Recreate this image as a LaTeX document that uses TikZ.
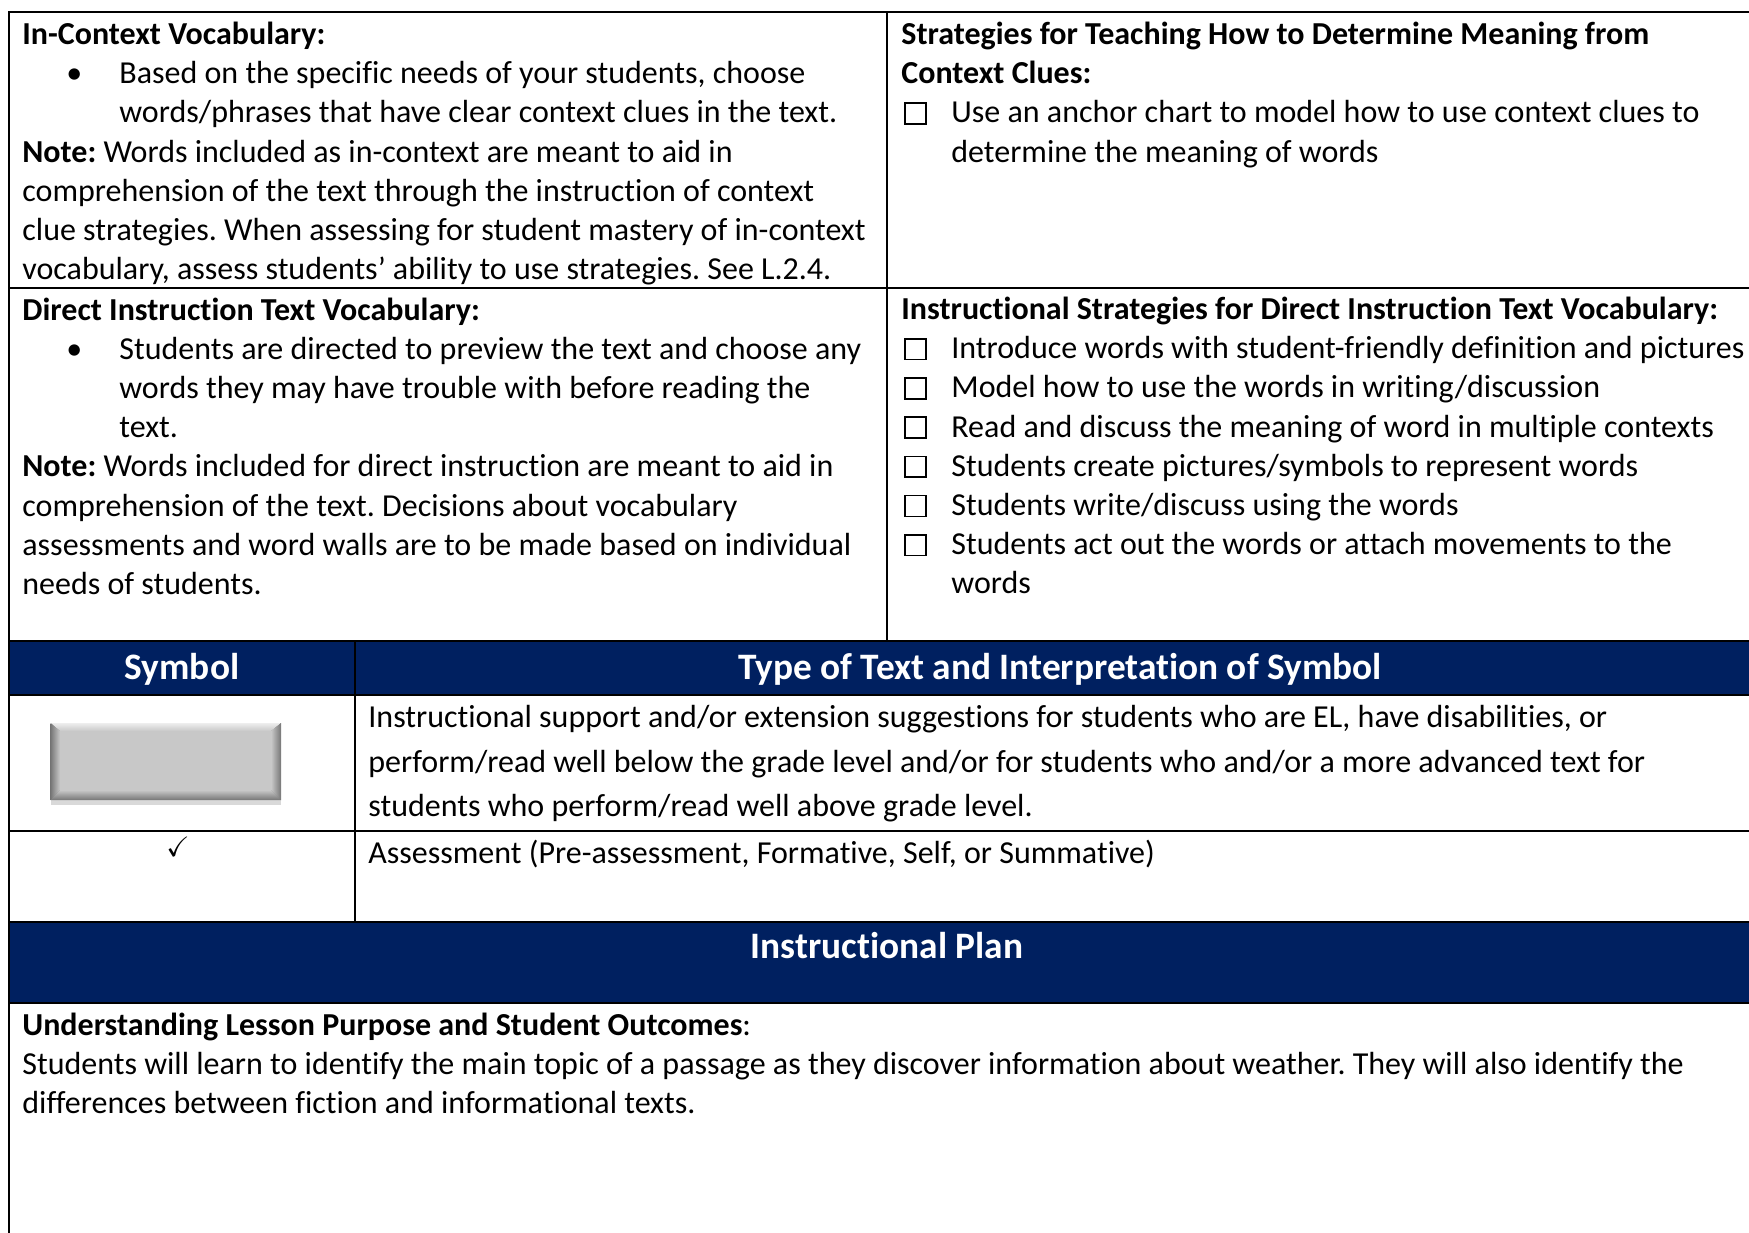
\documentclass[tikz,border=0pt]{standalone}
\usepackage{fontspec}
\setmainfont[Ligatures={NoCommon,NoContextual}]{Carlito}
\usepackage{amssymb}
\usetikzlibrary{shadows}
\definecolor{navyband}{RGB}{0,32,96}
\definecolor{btnface}{RGB}{200,200,200}
\definecolor{btnlight}{RGB}{238,238,238}
\definecolor{btndark}{RGB}{118,118,118}
\frenchspacing

\newcommand{\tickbox}{\makebox[25pt][l]{\hspace{1.5pt}{\setlength{\fboxsep}{0pt}\setlength{\fboxrule}{0.8pt}\fbox{\rule{0pt}{9.6pt}\hspace{9.6pt}}}}}
\newcommand{\bulpad}{\hspace*{48.5pt}}
\newcommand{\bulitem}{\hspace*{22pt}\makebox[26.5pt][l]{\textbullet}}

\tikzset{
  cell/.style={anchor=base west, inner sep=0pt, font=\fontsize{16}{19.6}\selectfont},
  symcell/.style={anchor=base west, inner sep=0pt, font=\fontsize{16}{22.25}\selectfont},
  bandtext/.style={anchor=base, inner sep=0pt, text=white, font=\fontsize{18.67}{22}\selectfont\bfseries},
  gridline/.style={line width=1pt, black}
}

\begin{document}
\begin{tikzpicture}[x=0.5pt, y=-0.5pt]

  \useasboundingbox (0,0) rectangle (1749,1232);
  \clip (0,0) rectangle (1749,1232);

  % Eckpunkte der Tabelle
  \coordinate (TL) at (9,12);
  \coordinate (BR) at (1765,1300);

  % Balken
  \fill[navyband] (9,641) rectangle (1765,694.5);
  \fill[navyband] (9,921.7) rectangle (1765,1003);

  % Linien
  \draw[gridline] (TL) rectangle (BR);
  \draw[gridline] (9,287.5) -- (1765,287.5);
  \draw[gridline] (887,12) -- (887,641);
  \draw[gridline] (9,641) -- (1765,641);
  \draw[gridline] (9,694.5) -- (1765,694.5);
  \draw[gridline] (9,831) -- (1765,831);
  \draw[gridline] (9,921.7) -- (1765,921.7);
  \draw[gridline] (9,1003) -- (1765,1003);
  \draw[gridline] (355,641) -- (355,921.7);

  % Wortschatz
  \node[cell] (icv) at (22,44.5) {\parbox[t]{860pt}{\raggedright
    \textbf{In-Context Vocabulary:}\\
    \bulitem Based on the specific needs of your students, choose\\
    \bulpad words/phrases that have clear context clues in the text.\\
    \textbf{Note:} Words included as in-context are meant to aid in\\
    comprehension of the text through the instruction of context\\
    clue strategies. When assessing for student mastery of in-context\\
    vocabulary, assess students’ ability to use strategies. See L.2.4.}};

  \node[cell] (ctx) at (901,44.5) {\parbox[t]{860pt}{\raggedright
    \textbf{Strategies for Teaching How to Determine Meaning from}\\
    \textbf{Context Clues:}\\
    \tickbox Use an anchor chart to model how to use context clues to\\
    \hspace*{25pt}determine the meaning of words}};

  \node[cell] (div) at (22,320) {\parbox[t]{860pt}{\raggedright
    \textbf{Direct Instruction Text Vocabulary:}\\
    \bulitem Students are directed to preview the text and choose any\\
    \bulpad words they may have trouble with before reading the\\
    \bulpad text.\\
    \textbf{Note:} Words included for direct instruction are meant to aid in\\
    comprehension of the text. Decisions about vocabulary\\
    assessments and word walls are to be made based on individual\\
    needs of students.}};

  \node[cell] (isd) at (901,319.5) {\parbox[t]{860pt}{\raggedright
    \textbf{Instructional Strategies for Direct Instruction Text Vocabulary:}\\
    \tickbox Introduce words with student-friendly definition and pictures\\
    \tickbox Model how to use the words in writing/discussion\\
    \tickbox Read and discuss the meaning of word in multiple contexts\\
    \tickbox Students create pictures/symbols to represent words\\
    \tickbox Students write/discuss using the words\\
    \tickbox Students act out the words or attach movements to the\\
    \hspace*{25pt}words}};

  % Symboltabelle
  \node[bandtext] (symh) at (182,679) {Symbol};
  \node[bandtext] (typh) at (1060,679) {Type of Text and Interpretation of Symbol};

  \fill[btndark, drop shadow={shadow xshift=0pt, shadow yshift=-2.5pt, opacity=0.3}]
    (50.5,723) rectangle (281,800);
  \shade[top color=btnlight, bottom color=btnface]
    (50.5,723) -- (281,723) -- (271,731) -- (60,731) -- cycle;
  \shade[top color=btnface, bottom color=btndark]
    (60,790) -- (271,790) -- (281,800) -- (50.5,800) -- cycle;
  \shade[left color=btndark, right color=btnface]
    (50.5,723) -- (60,731) -- (60,790) -- (50.5,800) -- cycle;
  \shade[left color=btnface, right color=btndark]
    (281,723) -- (271,731) -- (271,790) -- (281,800) -- cycle;
  \fill[btnface] (60,731) rectangle (271,790);

  \node[symcell] (sup) at (368,727.5) {\parbox[t]{860pt}{\raggedright
    Instructional support and/or extension suggestions for students who are EL, have disabilities, or\\
    perform/read well below the grade level and/or for students who and/or a more advanced text for\\
    students who perform/read well above grade level.}};

  \node[anchor=base, inner sep=0pt, font=\fontsize{14}{14}\selectfont] (tick) at (178,856) {$\checkmark$};
  \node[symcell] (asm) at (368,863) {Assessment (Pre-assessment, Formative, Self, or Summative)};

  % Unterrichtsplan
  \node[bandtext] (plan) at (887,958.5) {Instructional Plan};

  \node[cell] (ulp) at (22,1035.5) {\parbox[t]{860pt}{\raggedright
    \textbf{Understanding Lesson Purpose and Student Outcomes}:\\
    Students will learn to identify the main topic of a passage as they discover information about weather. They will also identify the\\
    differences between fiction and informational texts.}};

\end{tikzpicture}
\end{document}
